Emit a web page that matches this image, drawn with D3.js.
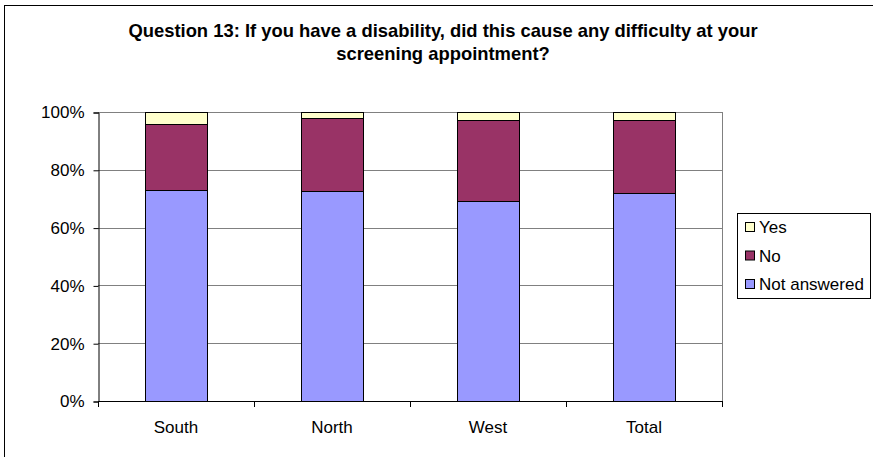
<!DOCTYPE html>
<html>
<head>
<meta charset="utf-8">
<script src="https://cdn.jsdelivr.net/npm/d3@7/dist/d3.min.js"></script>
<style>
  html, body { margin: 0; padding: 0; background: #fff; }
  svg { display: block; font-family: "Liberation Sans", Arial, sans-serif; }
</style>
</head>
<body>
<svg id="chart" width="873" height="457"></svg>
<script>
// Responses per region (percent of respondents)
const categories = ["South", "North", "West", "Total"];
const seriesNames = ["Not answered", "No", "Yes"];
const notAnswered = [73.0, 72.6, 69.1, 72.0];
const no = [22.8, 25.2, 28.2, 25.3];
const yes = [4.2, 2.2, 2.7, 2.7];
const yTicks = [0, 20, 40, 60, 80, 100];
const colors = { "Not answered": "#9999FF", "No": "#993366", "Yes": "#FFFFCC" };

const rows = categories.map((c, i) => ({
  category: c,
  "Not answered": notAnswered[i],
  "No": no[i],
  "Yes": yes[i]
}));

const svg = d3.select("#chart");

// outer chart frame
svg.append("rect")
  .attr("x", 4.5).attr("y", 5.5)
  .attr("width", 880).attr("height", 470)
  .attr("fill", "none").attr("stroke", "#000").attr("stroke-width", 1);

// title
const title = svg.append("text")
  .attr("text-anchor", "middle")
  .attr("font-weight", "bold")
  .attr("font-size", 18.4)
  .attr("fill", "#000");
title.append("tspan").attr("x", 443).attr("y", 37)
  .text("Question 13: If you have a disability, did this cause any difficulty at your");
title.append("tspan").attr("x", 443).attr("y", 60)
  .text("screening appointment?");

const plot = { left: 98, right: 722, top: 112, bottom: 401 };

const x = d3.scaleBand().domain(categories)
  .range([plot.left, plot.right]).paddingInner(0.6).paddingOuter(0.3);
const y = d3.scaleLinear().domain([0, 100]).range([plot.bottom, plot.top]);

// gridlines
svg.append("g").selectAll("line").data(yTicks.filter(t => t > 0)).join("line")
  .attr("x1", plot.left).attr("x2", plot.right)
  .attr("y1", d => Math.round(y(d)) + 0.5).attr("y2", d => Math.round(y(d)) + 0.5)
  .attr("stroke", "#808080").attr("stroke-width", 1);

// right edge of plot area
svg.append("line")
  .attr("x1", plot.right + 0.5).attr("x2", plot.right + 0.5)
  .attr("y1", plot.top).attr("y2", plot.bottom)
  .attr("stroke", "#808080");

// stacked bars
const stack = d3.stack().keys(seriesNames)(rows);
svg.append("g").selectAll("g").data(stack).join("g")
  .attr("fill", d => colors[d.key])
  .selectAll("rect").data(d => d).join("rect")
  .attr("x", d => Math.round(x(d.data.category)) + 0.5)
  .attr("y", d => Math.round(y(d[1])) + 0.5)
  .attr("width", Math.round(x.bandwidth()))
  .attr("height", d => Math.round(y(d[0])) - Math.round(y(d[1])))
  .attr("stroke", "#000").attr("stroke-width", 1);

// y axis
const yAxis = d3.axisLeft(y).tickValues(yTicks).tickFormat(d => d + "%").tickSize(5).tickPadding(9);
const gy = svg.append("g").attr("transform", `translate(${plot.left + 0.5},0.5)`).call(yAxis);
gy.selectAll("text").attr("font-size", 17).attr("fill", "#000")
  .attr("font-family", "Liberation Sans, Arial, sans-serif");
gy.selectAll("line, path").attr("stroke", "#000");

// x axis: tick marks sit between categories
const boundaries = d3.range(categories.length + 1).map(i => plot.left + i * (plot.right - plot.left) / categories.length);
const gx = svg.append("g");
gx.append("line")
  .attr("x1", plot.left).attr("x2", plot.right + 1)
  .attr("y1", plot.bottom + 0.5).attr("y2", plot.bottom + 0.5)
  .attr("stroke", "#000");
gx.selectAll("line.tick").data(boundaries).join("line")
  .attr("class", "tick")
  .attr("x1", d => Math.round(d) + 0.5).attr("x2", d => Math.round(d) + 0.5)
  .attr("y1", plot.bottom).attr("y2", plot.bottom + 6)
  .attr("stroke", "#000");
gx.selectAll("text").data(categories).join("text")
  .attr("x", d => x(d) + x.bandwidth() / 2)
  .attr("y", 433)
  .attr("text-anchor", "middle")
  .attr("font-size", 17)
  .attr("fill", "#000")
  .text(d => d);

// legend
const legendItems = ["Yes", "No", "Not answered"];
const lg = svg.append("g");
lg.append("rect")
  .attr("x", 737.5).attr("y", 213.5).attr("width", 133).attr("height", 85)
  .attr("fill", "#fff").attr("stroke", "#000");
const li = lg.selectAll("g").data(legendItems).join("g")
  .attr("transform", (d, i) => `translate(745, ${227 + i * 28.5})`);
li.append("rect")
  .attr("x", 0.5).attr("y", -4.5).attr("width", 9).attr("height", 9)
  .attr("fill", d => colors[d]).attr("stroke", "#000");
li.append("text")
  .attr("x", 14).attr("y", 6)
  .attr("font-size", 17).attr("fill", "#000")
  .text(d => d);
</script>
</body>
</html>
